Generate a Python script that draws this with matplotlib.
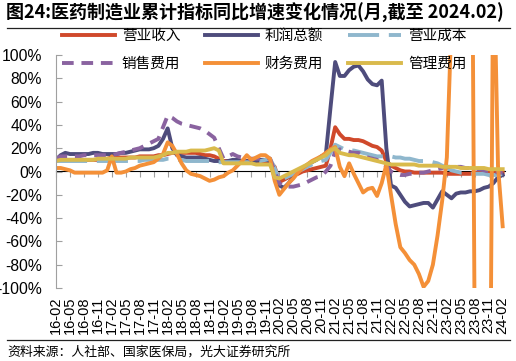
import numpy as np
import matplotlib.pyplot as plt
from matplotlib.lines import Line2D

plt.rcParams['font.family'] = ['Noto Sans CJK SC', 'DejaVu Sans']

# 月度类目 16-02 ... 24-02
months = []
for y in range(16, 25):
    for m in range(1, 13):
        if (y == 16 and m < 2) or (y == 24 and m > 2):
            continue
        months.append(f"{y}-{m:02d}")
tick_labels = months[::3]

# 各指标累计同比 (%)
revenue = [9, 10, 10, 10, 10, 10, 10, 10, 10, 10, 10, 11,
           12, 12, 12, 12, 12, 12, 13, 13, 13, 13, 14, 14,
           15, 16, 16, 16, 16, 16, 16, 15, 14, 14, 13, 11,
           9, 9, 9, 9, 9, 9, 9, 9, 8, 8, 8, 4,
           -9, -7, -5, -3, -2, 0, 1, 2, 3, 4, 5, 20,
           38, 32, 28, 28, 27, 27, 26, 24, 22, 21, 18, 9,
           5, 3, 1, 0, 0, -1, -1, -1, -1, -1, -1, -1,
           -2, -2, -2, -2, -2, -2, -1, -1, -1, -1, -1, -1,
           -1]
profit = [10, 14, 16, 15, 15, 15, 15, 15, 16, 16, 15, 15,
          15, 15, 16, 16, 17, 18, 19, 19, 19, 20, 22, 28,
          37, 20, 14, 13, 12, 12, 12, 12, 11, 10, 9, 9,
          8, 9, 10, 10, 9, 9, 9, 9, 10, 10, 9, -2,
          -12, -14, -10, -5, 0, 3, 5, 8, 10, 13, 15, 55,
          94, 82, 82, 87, 90, 91, 86, 79, 75, 74, 78, 20,
          -12, -14, -20, -26, -30, -29, -28, -27, -27, -31, -24, -17,
          -20, -23, -19, -18, -18, -17, -17, -16, -14, -13, -10, -5,
          -3]
cost = [9, 9, 9, 9, 9, 9, 9, 9, 9, 9, 9, 9,
        9, 9, 9, 9, 9, 9, 9, 10, 10, 10, 10, 10,
        11, 11, 10, 10, 9, 9, 9, 9, 9, 9, 8, 8,
        8, 8, 8, 8, 8, 8, 8, 9, 9, 10, 11, 3,
        -8, -6, -4, -2, 0, 2, 4, 6, 8, 9, 10, 16,
        23, 21, 19, 18, 18, 17, 16, 15, 14, 13, 13, 13,
        13, 12, 12, 11, 11, 10, 9, 9, 9, 8, 7, 5,
        3, 1, 0, -1, -1, -2, -2, -2, -2, -3, -3, -3,
        -2]
selling = [11, 13, 13, 13, 13, 13, 14, 14, 14, 14, 14, 14,
           14, 15, 16, 17, 18, 19, 20, 22, 24, 26, 28, 38,
           48, 46, 43, 41, 40, 39, 38, 37, 35, 32, 29, 20,
           11, 13, 15, 13, 12, 11, 11, 11, 11, 12, 11, 0,
           -10, -13, -13, -13, -12, -11, -9, -7, -5, -4, 0, 5,
           17, 19, 18, 17, 16, 16, 14, 12, 11, 10, 7, 5,
           0, -2, -3, -3, -2, -2, -1, -1, 0, 1, 2, 3,
           4, 4, 4, 4, 3, 3, 2, 2, 1, 0, 0, -1,
           -1]
finance = [3, 3, 2, 1, -1, -1, -1, -1, -1, -1, -1, 1,
           13, -1, -1, 0, 2, 3, 5, 6, 7, 8, 11, 15,
           25, 22, 15, 7, 1, -2, -3, -4, -6, -8, -7, -5,
           -4, -1, 1, 5, 9, 14, 10, 12, 14, 14, 11, -8,
           -20, -15, -10, -6, -1, 3, 6, 9, 11, 13, 16, 19,
           21, 4, -4, 7, -2, -10, -18, -15, -14, -21, -10, 6,
           -20, -45, -65, -70, -76, -80, -88, -99, -94, -80, -55, -25,
           12, 130, 350, 420, 380, 500, -150, -250, -300, -400, 200, 4,
           -47]
admin = [9, 10, 10, 10, 10, 10, 10, 10, 10, 11, 11, 11,
         11, 11, 11, 11, 12, 12, 12, 12, 12, 12, 13, 14,
         16, 16, 17, 17, 17, 18, 18, 18, 18, 19, 20, 18,
         7, 7, 7, 7, 7, 7, 7, 6, 6, 6, 6, -5,
         -6, -4, -2, 0, 2, 4, 6, 8, 10, 12, 14, 18,
         20, 16, 15, 14, 14, 13, 12, 11, 10, 9, 8, 7,
         6, 6, 6, 6, 6, 6, 5, 5, 5, 5, 5, 4,
         4, 4, 4, 3, 3, 3, 3, 3, 3, 2, 2, 2,
         2]

x = np.arange(len(months))
W, H = 516, 361
fig = plt.figure(figsize=(W / 100, H / 100), dpi=100)
ax = fig.add_axes([56 / W, 1 - 288 / H, 449 / W, 233 / H])

lw = 2.8
l1, = ax.plot(x, revenue, color='#D0492B', lw=lw, label='营业收入')
l2, = ax.plot(x, profit, color='#4E4C7C', lw=lw, label='利润总额')
l3, = ax.plot(x, cost, color='#8FB7CD', lw=lw, dashes=(8, 2.5), label='营业成本')
l4, = ax.plot(x, selling, color='#8A63A0', lw=lw, dashes=(3, 2), label='销售费用')
l5, = ax.plot(x, finance, color='#F49038', lw=lw, label='财务费用')
l6, = ax.plot(x, admin, color='#D9BA4C', lw=lw, label='管理费用')

ax.set_xlim(0, 96.5)
ax.set_ylim(-100, 100)
yt = np.arange(-100, 101, 20)
ax.set_yticks(yt)
ax.set_yticklabels([f"{v}%" for v in yt], family='Liberation Sans', fontsize=11.3)
ax.set_xticks(x[::3])
ax.set_xticklabels(tick_labels, rotation=90, family='Liberation Sans', fontsize=10.5)
ax.tick_params(axis='x', length=0, pad=6)
ax.tick_params(axis='y', direction='in', length=4, color='#A0A0A0', pad=10)
for s in ['top', 'right', 'bottom']:
    ax.spines[s].set_visible(False)
ax.spines['left'].set_color('#A0A0A0')

# 零轴及刻度
zero = ax.secondary_xaxis(0.5)
zero.set_xticks(x[::3])
zero.set_xticklabels([])
zero.tick_params(direction='in', length=4, color='#A0A0A0')
zero.spines['bottom'].set_color('#A0A0A0')

handles = [l1, l4, l2, l5, l3, l6]
fig.legend(handles=handles, labels=[h.get_label() for h in handles], ncol=3,
           loc='upper left', bbox_to_anchor=(62 / W, 1 - 29 / H), frameon=False,
           fontsize=10.5, handlelength=3.6, handletextpad=0.5, columnspacing=1.7,
           labelspacing=0.95, borderpad=0, borderaxespad=0)

fig.text(6 / W, 1 - 13 / H, '图24:医药制造业累计指标同比增速变化情况(月,截至 2024.02)',
         fontsize=13, fontweight='bold', va='center', ha='left')
fig.add_artist(Line2D([7 / W, 510 / W], [1 - 28 / H, 1 - 28 / H], color='#222222', lw=0.9))
fig.add_artist(Line2D([7 / W, 510 / W], [1 - 340 / H, 1 - 340 / H], color='#222222', lw=0.9))
fig.text(7 / W, 1 - 352 / H, '资料来源：人社部、国家医保局，光大证券研究所', fontsize=9.3, va='center', ha='left')

fig.savefig('out.png', dpi=100)
